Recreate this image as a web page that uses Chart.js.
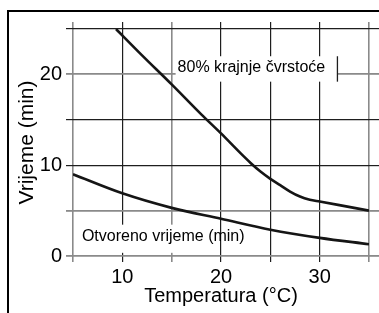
<!DOCTYPE html>
<html>
<head>
<meta charset="utf-8">
<script src="https://cdn.jsdelivr.net/npm/chart.js@4"></script>
<style>
  html, body { margin: 0; padding: 0; background: #fff; }
  #box { width: 379px; height: 313px; }
</style>
</head>
<body>
<div id="box"><canvas id="chart" width="379" height="313"></canvas></div>
<script>
// Werte
const temp80 = [9.36, 12, 15, 18, 20, 22, 23, 24, 25, 26, 27, 28, 29, 30, 32, 35];
const vrijeme80 = [25, 22.1, 18.9, 15.6, 13.5, 11.3, 10.25, 9.3, 8.5, 7.8, 7.1, 6.55, 6.2, 6.0, 5.6, 5.0];

const tempOtv = [5, 10, 15, 20, 25, 30, 35];
const vrijemeOtv = [9.0, 6.9, 5.3, 4.1, 2.9, 2.0, 1.3];

const xTickLabels = [10, 20, 30];
const yTickLabels = [0, 10, 20];

const label80 = "80% krajnje čvrstoće";
const labelOtv = "Otvoreno vrijeme (min)";
const xTitle = "Temperatura (°C)";
const yTitle = "Vrijeme (min)";

const fontFam = "'Liberation Sans', Arial, sans-serif";
const dark = "#1e1e1e";
const gray = "#8a8a8a";

// Linien wirken im Original teils dunkel, teils grau (Antialiasing)
const xDark = [10, 20, 25, 30];
const yDark = [10, 15, 25];
const xLineColor = (c) => (c.tick && xDark.includes(c.tick.value) ? dark : gray);
const xLineWidth = (c) => (c.tick && xDark.includes(c.tick.value) ? 1.2 : 1.6);
const yLineColor = (c) => (c.tick && yDark.includes(c.tick.value) ? dark : gray);
const yLineWidth = (c) => (c.tick && yDark.includes(c.tick.value) ? 1.2 : 1.8);

// Rahmen + Beschriftungsfelder
const extras = {
  id: "extras",
  beforeDatasetsDraw(chart) {
    const { ctx } = chart;
    const x = chart.scales.x;
    const y = chart.scales.y;
    ctx.save();
    ctx.fillStyle = "#fff";
    // Feld "80% ..."
    const b1l = x.getPixelForValue(15.4), b1r = x.getPixelForValue(31.8);
    const b1t = y.getPixelForValue(22.0), b1b = y.getPixelForValue(19.2);
    ctx.fillRect(b1l, b1t, b1r - b1l, b1b - b1t);
    ctx.strokeStyle = dark;
    ctx.lineWidth = 1.3;
    ctx.beginPath();
    ctx.moveTo(b1r, b1t);
    ctx.lineTo(b1r, b1b);
    ctx.stroke();
    // Feld "Otvoreno ..."
    const b2l = x.getPixelForValue(5.3), b2r = x.getPixelForValue(19.7);
    const b2t = y.getPixelForValue(3.45), b2b = y.getPixelForValue(0.35);
    ctx.fillRect(b2l, b2t, b2r - b2l, b2b - b2t);

    ctx.fillStyle = "#000";
    ctx.font = "16px " + fontFam;
    ctx.textBaseline = "middle";
    ctx.textAlign = "left";
    ctx.fillText(label80, b1l + 2, y.getPixelForValue(20.8));
    ctx.fillText(labelOtv, x.getPixelForValue(5.9), y.getPixelForValue(2.1));

    // äusserer Rahmen
    ctx.strokeStyle = "#000";
    ctx.lineWidth = 2;
    ctx.beginPath();
    ctx.moveTo(8, 313);
    ctx.lineTo(8, 11);
    ctx.lineTo(379, 11);
    ctx.stroke();
    ctx.restore();
  }
};

const ctx = document.getElementById("chart").getContext("2d");

new Chart(ctx, {
  type: "line",
  data: {
    datasets: [
      {
        label: label80,
        data: temp80.map((t, i) => ({ x: t, y: vrijeme80[i] })),
        borderColor: "#151515",
        borderWidth: 2.6,
        pointRadius: 0,
        cubicInterpolationMode: "monotone",
        fill: false,
      },
      {
        label: labelOtv,
        data: tempOtv.map((t, i) => ({ x: t, y: vrijemeOtv[i] })),
        borderColor: "#151515",
        borderWidth: 2.6,
        pointRadius: 0,
        cubicInterpolationMode: "monotone",
        fill: false,
      },
    ],
  },
  options: {
    responsive: false,
    animation: false,
    layout: { padding: { top: 22, right: 0, bottom: 0, left: 0 } },
    plugins: { legend: { display: false }, tooltip: { enabled: false } },
    scales: {
      x: {
        type: "linear",
        position: "bottom",
        min: 5,
        max: 35,
        afterFit: (s) => { s.height = 57; },
        grid: { color: xLineColor, lineWidth: xLineWidth, tickLength: 6 },
        border: { display: false },
        ticks: {
          stepSize: 5,
          padding: 3,
          color: "#000",
          font: { family: fontFam, size: 20 },
          callback: (v) => (xTickLabels.includes(v) ? String(v) : ""),
        },
        title: {
          display: true,
          text: xTitle,
          color: "#000",
          font: { family: fontFam, size: 20 },
          padding: { top: 0, bottom: 5 },
        },
      },
      x2: {
        type: "linear",
        position: "top",
        min: 5,
        max: 35,
        afterFit: (s) => { s.height = 7; },
        grid: { color: xLineColor, lineWidth: xLineWidth, tickLength: 7, drawOnChartArea: false },
        border: { display: false },
        ticks: { stepSize: 5, display: false },
      },
      y: {
        type: "linear",
        position: "left",
        min: 0,
        max: 25,
        afterFit: (s) => { s.width = 73; },
        grid: { color: yLineColor, lineWidth: yLineWidth, tickLength: 7 },
        border: { display: false },
        ticks: {
          stepSize: 5,
          padding: 4,
          color: "#000",
          font: { family: fontFam, size: 20 },
          callback: (v) => (yTickLabels.includes(v) ? String(v) : ""),
        },
        title: {
          display: true,
          text: yTitle,
          color: "#000",
          font: { family: fontFam, size: 21 },
          padding: { top: 15, bottom: 0 },
        },
      },
      y2: {
        type: "linear",
        position: "right",
        min: 0,
        max: 25,
        afterFit: (s) => { s.width = 10; },
        grid: { color: yLineColor, lineWidth: yLineWidth, tickLength: 10, drawOnChartArea: false },
        border: { display: false },
        ticks: { stepSize: 5, display: false },
      },
    },
  },
  plugins: [extras],
});
</script>
</body>
</html>
